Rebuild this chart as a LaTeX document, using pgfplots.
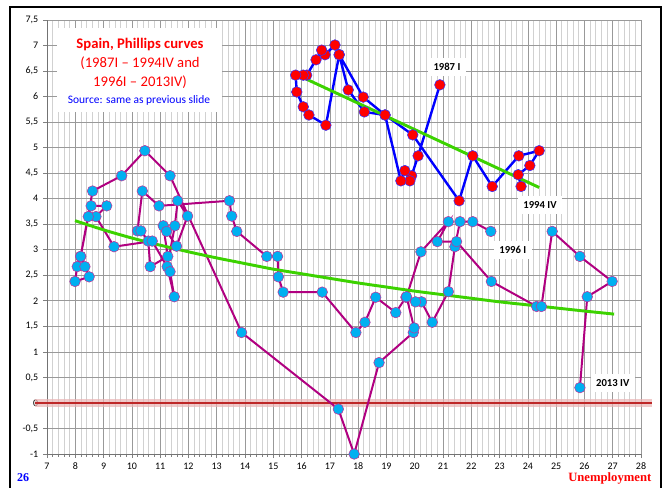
\documentclass[border=0pt]{standalone}
\usepackage{pgfplots}
\usepackage{pgfplotstable}
\pgfplotsset{compat=1.18}
\usepackage{fontspec}
\setmainfont{Carlito}
\newfontfamily\timesfont{Liberation Serif}
\definecolor{cyanpt}{RGB}{0,176,240}
\definecolor{magline}{RGB}{176,0,128}
\definecolor{bluel}{RGB}{0,0,255}
\definecolor{greenl}{RGB}{60,210,0}
\definecolor{zerored}{RGB}{190,40,40}

\pgfplotstableread{
x y
20.89 6.23
20.12 4.84
19.89 4.45
19.83 4.35
19.65 4.55
19.51 4.35
18.95 5.64
18.18 5.99
17.33 6.82
17.18 7.01
16.83 6.82
16.71 6.91
16.51 6.72
16.18 6.42
16.06 6.42
15.79 6.42
15.83 6.09
16.06 5.80
16.26 5.64
16.86 5.44
17.33 6.82
17.65 6.13
18.22 5.70
18.95 5.64
19.93 5.25
21.57 3.96
22.05 4.84
22.74 4.24
23.68 4.84
24.40 4.94
24.07 4.65
23.66 4.47
23.76 4.24
}\reddata

\pgfplotstableread{
x y
22.69 3.36
22.05 3.55
21.60 3.55
21.42 3.06
21.19 2.18
20.62 1.58
20.24 1.98
20.03 1.98
19.69 2.07
19.33 1.77
18.62 2.07
18.24 1.58
17.92 1.38
16.73 2.17
15.35 2.17
15.18 2.47
15.15 2.87
14.77 2.87
13.71 3.36
13.53 3.66
13.45 3.96
10.96 3.86
10.37 4.15
10.20 3.37
10.32 3.37
10.58 3.17
10.65 2.67
11.27 2.87
11.11 3.47
11.23 3.36
11.58 3.07
11.97 3.66
11.62 3.96
11.52 3.47
11.25 2.67
11.50 2.08
11.35 2.57
10.72 3.17
9.37 3.06
8.73 3.65
9.11 3.86
8.56 3.86
8.46 3.65
8.19 2.87
8.07 2.67
7.99 2.38
8.49 2.47
8.34 2.67
8.19 2.87
8.61 4.15
9.64 4.45
10.46 4.94
11.35 4.45
13.88 1.38
17.30 -0.12
17.86 -1.00
18.74 0.79
19.95 1.38
19.98 1.47
19.71 2.08
20.22 2.96
21.19 3.55
20.80 3.16
21.48 3.16
22.71 2.38
24.31 1.89
24.48 1.89
24.86 3.36
25.84 2.87
26.98 2.38
26.10 2.08
25.84 0.30
}\cyandata

\begin{document}
\begin{tikzpicture}[x=0.75pt,y=-0.75pt]
\path[use as bounding box] (0,0) rectangle (667,488);
\begin{axis}[
  at={(35.25pt,-340.5pt)}, anchor=south west,
  scale only axis, width=445.5pt, height=325.5pt,
  xmin=7, xmax=28, ymin=-1, ymax=7.5,
  xtick={7,...,28}, ytick={-1,-0.5,...,7.5},
  minor x tick num=4,
  grid=both,
  major grid style={black!40, line width=0.5pt},
  minor grid style={black!18, line width=0.5pt},
  axis lines=left,
  axis line style={-, black!55, line width=0.7pt},
  tick align=outside,
  tick style={black!50, line width=0.5pt},
  major tick length=3pt, minor tick length=2pt,
  tick label style={font=\fontsize{7.5}{8}\selectfont},
  /pgf/number format/assume math mode=true,
  y tick label style={/pgf/number format/.cd, use comma, fixed, precision=1},
  clip=false,
]
% zero line with glow
\addplot[zerored!35, line width=6pt, opacity=0.7] coordinates {(6.58,0) (28.39,0)};
\addplot[zerored, line width=1.6pt] coordinates {(6.58,0) (28.39,0)};
% cyan series lines
\addplot[magline, line width=1.5pt, no markers] table {\cyandata};
% trend for cyan
\addplot[greenl, line width=2.2pt, smooth, no markers] coordinates {
(7.99,3.57) (9,3.39) (10,3.23) (11,3.09) (12,2.96) (13,2.84) (14,2.73) (15,2.62)
(16,2.53) (17,2.44) (18,2.35) (19,2.27) (20,2.19) (21,2.12) (22,2.05) (23,1.98)
(24,1.92) (25,1.86) (26,1.80) (27.05,1.74)};
\addplot[only marks, mark=*, mark size=4pt, mark options={fill=cyanpt, draw=magline!80, line width=0.4pt}] table {\cyandata};
% red series
\addplot[bluel, line width=1.8pt, no markers] table {\reddata};
\addplot[only marks, mark=*, mark size=4pt, mark options={fill=red, draw=bluel!80, line width=0.4pt}] table {\reddata};
\addplot[greenl, line width=2.2pt, no markers] coordinates {(15.79,6.44) (24.40,4.22)};
% labels
\node[fill=white, font=\bfseries\fontsize{8}{9}\selectfont, inner sep=4pt] at (axis cs:21.14,6.58) {1987 I};
\node[fill=white, font=\bfseries\fontsize{8}{9}\selectfont, inner sep=4pt] at (axis cs:24.43,3.88) {1994 IV};
\node[fill=white, font=\bfseries\fontsize{8}{9}\selectfont, inner sep=4pt] at (axis cs:23.47,3.0) {1996 I};
\node[fill=white, font=\bfseries\fontsize{8}{9}\selectfont, inner sep=4pt] at (axis cs:27.0,0.39) {2013 IV};
\end{axis}
% title box
\fill[white] (57,28) rectangle (222,112);
\node[red, font=\bfseries\fontsize{11}{12}\selectfont] at (140,45) {Spain, Phillips curves};
\node[red, font=\fontsize{11}{12}\selectfont] at (140,63) {(1987I – 1994IV and};
\node[red, font=\fontsize{11}{12}\selectfont] at (140,82) {1996I – 2013IV)};
\node[blue, font=\fontsize{8.6}{9}\selectfont] at (139,100) {Source: same as previous slide};
% footer
\node[blue, font=\timesfont\bfseries\fontsize{9}{10}\selectfont] at (23,478) {26};
\node[red, font=\timesfont\bfseries\fontsize{9.5}{10}\selectfont, anchor=east] at (656,478) {Unemployment};
% slide frame
\draw[line width=2.2pt] (10,500) -- (10,7) -- (661,7) -- (661,500);
\end{tikzpicture}
\end{document}
